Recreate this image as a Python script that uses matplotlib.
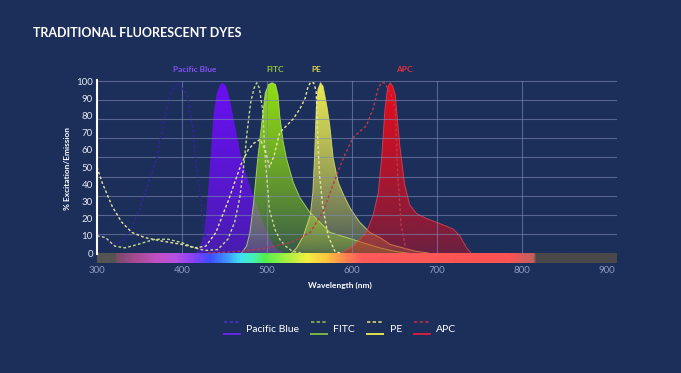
import numpy as np
import matplotlib
matplotlib.use('Agg')
import matplotlib.pyplot as plt
from matplotlib.colors import LinearSegmentedColormap, to_rgba
from matplotlib.patches import Polygon
from matplotlib.lines import Line2D
from matplotlib.legend_handler import HandlerBase

plt.rcParams['font.family'] = ['Lato', 'DejaVu Sans']

# ---- data (wavelength nm, % excitation/emission) ----
dyes = ['Pacific Blue', 'FITC', 'PE', 'APC']

pb_ex_nm = [300, 310, 320, 330, 340, 350, 360, 370, 378, 386, 395, 406, 412, 416, 420, 425, 430, 436]
pb_ex = [12, 8, 5, 7, 14, 25, 40, 55, 75, 92, 99, 92, 75, 55, 38, 16, 4, 0]
pb_em_nm = [417, 421, 425, 428, 431, 434, 437, 441, 445, 448, 452, 456, 460, 466, 470, 476, 482,
            488, 494, 500, 506, 512, 520]
pb_em = [0, 3, 10, 20, 38, 58, 80, 93, 98, 99, 97, 90, 80, 65, 55, 45, 36, 28, 20, 12, 6, 2, 0]

fitc_ex_nm = [300, 310, 321, 333, 348, 368, 384, 400, 415, 427, 442, 454, 462, 468, 473, 477, 481,
              485, 488, 491, 495, 498, 503, 510, 515, 522, 530, 540]
fitc_ex = [10, 9, 4, 3, 5, 8, 8, 6, 3, 1.5, 2, 8, 18, 32, 52, 72, 88, 96, 99, 96, 83, 55, 25, 13,
           8, 4, 1, 0]
fitc_em_nm = [470, 476, 480, 484, 489, 494, 498, 502, 506, 510, 513, 515, 519, 523, 531, 539, 550,
              562, 574, 594, 613, 633, 650, 665]
fitc_em = [0, 4, 12, 28, 54, 76, 93, 98, 99, 98, 92, 80, 65, 55, 41, 32, 24, 18, 12, 9, 6, 3, 1, 0]

pe_ex_nm = [300, 306, 318, 329, 341, 356, 376, 400, 415, 428, 440, 447, 455, 462, 470, 478, 485,
            492, 498, 503, 508, 515, 523, 531, 539, 545, 548, 551, 555, 558, 560, 562, 566, 572,
            580, 586]
pe_ex = [50, 41, 27, 18, 12, 9, 7, 5, 3, 4, 12, 21, 31, 41, 52, 60, 64, 66, 60, 50, 56, 70, 74,
         78, 84, 90, 96, 99, 99, 94, 64, 45, 26, 10, 1, 0]
pe_em_nm = [529, 535, 543, 551, 554, 556, 558, 560, 563, 566, 568, 571, 574, 578, 584, 590, 598,
            609, 621, 633, 645, 660, 675, 690]
pe_em = [0, 3, 10, 22, 35, 55, 84, 95, 99, 97, 92, 84, 74, 55, 41, 34, 26, 18, 12, 9, 5, 3, 1, 0]

apc_ex_nm = [430, 470, 500, 527, 540, 551, 566, 578, 588, 601, 610, 617, 625, 631, 635, 638, 642,
             646, 651, 654, 658, 664, 670]
apc_ex = [0, 1, 3, 6, 9, 12, 24, 40, 53, 67, 71, 74, 84, 96, 99, 99, 96, 92, 84, 45, 16, 1, 0]
apc_em_nm = [588, 598, 606, 617, 625, 631, 635, 639, 642, 645, 648, 651, 656, 662, 668, 676, 688,
             704, 719, 727, 735, 740]
apc_em = [0, 3, 6, 12, 22, 35, 55, 84, 96, 99, 97, 92, 64, 40, 28, 23, 20, 17, 14, 10, 3, 0]

x_ticks = [300, 400, 500, 600, 700, 800, 900]
y_ticks = [0, 10, 20, 30, 40, 50, 60, 70, 80, 90, 100]

# ---- styling ----
BG = '#1c2e5a'
GRID = '#7d8cb4'
label_colors = ['#8150ee', '#95c83c', '#d8d24c', '#e8303e']
ex_colors = ['#3224a0', '#c4dc8c', '#e6e69a', '#b83a4c']
em_top = ['#6a10f2', '#92e010', '#ecec52', '#e80c1c']
em_bottom_alpha = [0.55, 0.22, 0.18, 0.38]
em_edge = [None, '#b4e468', '#e4e070', '#e04458']
leg_dash = ['#4a30c8', '#92b454', '#d8d870', '#b83048']
leg_solid = ['#6628e8', '#7cb444', '#e0e050', '#d02040']

fig = plt.figure(figsize=(6.81, 3.73), dpi=100, facecolor=BG)
ax = fig.add_axes([97 / 681, 110 / 373, 520 / 681, 183.7 / 373])
ax.set_facecolor(BG)
ax.set_xlim(300, 912)
ax.set_ylim(-5.8, 101)


def gradient_fill(x, y, top, bottom_alpha, z):
    patch = Polygon(np.column_stack([x, y]), closed=True, facecolor='none', edgecolor='none')
    ax.add_patch(patch)
    t = np.linspace(0, 1, 256)
    img = np.tile(np.array(to_rgba(top)), (256, 1))
    img[:, 3] = bottom_alpha + (1 - bottom_alpha) * t ** 0.8
    ax.imshow(img[:, None, :], extent=[min(x), max(x), 0, 100], origin='lower',
              aspect='auto', zorder=z, interpolation='bilinear').set_clip_path(patch)


ems = [(pb_em_nm, pb_em), (fitc_em_nm, fitc_em), (pe_em_nm, pe_em), (apc_em_nm, apc_em)]
exs = [(pb_ex_nm, pb_ex), (fitc_ex_nm, fitc_ex), (pe_ex_nm, pe_ex), (apc_ex_nm, apc_ex)]

for i, (x, y) in enumerate(ems):
    gradient_fill(x, y, em_top[i], em_bottom_alpha[i], 2 + i)
    if em_edge[i]:
        ax.plot(x, y, color=em_edge[i], lw=0.7, alpha=0.8, zorder=2.5 + i)

# grid: 9 even horizontal bands, verticals every 100 nm
for k in range(1, 10):
    ax.axhline(100 * k / 9, color=GRID, lw=0.8, alpha=0.6, zorder=7)
for xv in x_ticks[1:-1]:
    ax.plot([xv, xv], [0, 100], color=GRID, lw=0.8, alpha=0.6, zorder=7)

for i, (x, y) in enumerate(exs):
    ax.plot(x, y, color=ex_colors[i], lw=1.0, ls=(0, (2, 1.6)), zorder=8)

# spectrum bar under the axis
stops = [(300, '#555555'), (320, '#585252'), (322, '#7a4a6c'), (345, '#a84a92'),
         (370, '#c250c4'), (392, '#b450e4'), (412, '#8a40f2'), (432, '#3e4cff'),
         (452, '#3e94ff'), (468, '#40e2f2'), (483, '#44f0b8'), (497, '#52f04e'),
         (522, '#a4f040'), (547, '#f2f040'), (572, '#ffc040'), (592, '#ff8450'),
         (612, '#ff5a5a'), (785, '#ff5252'), (815, '#c06060'), (818, '#4a4848'),
         (912, '#4a4848')]
spec = LinearSegmentedColormap.from_list(
    'spec', [((w - 300) / 612, c) for w, c in stops])
ax.imshow(np.linspace(0, 1, 612)[None, :], cmap=spec, extent=[300, 912, -5.8, -0.5],
          aspect='auto', zorder=6)
ax.set_xlim(300, 912)
ax.set_ylim(-5.8, 101)

for s in ['top', 'right', 'bottom']:
    ax.spines[s].set_visible(False)
ax.spines['left'].set_color('white')
ax.spines['left'].set_linewidth(1.5)
ax.spines['left'].set_bounds(-0.5, 100.5)
ax.spines['left'].set_zorder(9)

ax.set_xticks(x_ticks)
ax.set_yticks(y_ticks)
ax.tick_params(length=0)
ax.tick_params(axis='x', colors='#8f9cc2', labelsize=7, pad=2.5)
ax.tick_params(axis='y', colors='#e4e8f0', labelsize=7, pad=3)

fig.text(33 / 681, 1 - 33 / 373, 'TRADITIONAL FLUORESCENT DYES', color='white',
         fontsize=9, fontweight='bold', ha='left', va='center')
for name, col, px in zip(dyes, label_colors, [195, 275, 316, 404]):
    fig.text(px / 681, 1 - 69 / 373, name, color=col, fontsize=6, fontweight='bold',
             ha='center', va='center')
fig.text(67 / 681, 1 - 168 / 373, '% Excitation/Emission', color='white', fontsize=6,
         fontweight='bold', rotation=90, ha='center', va='center')
fig.text(340 / 681, 1 - 285 / 373, 'Wavelength (nm)', color='white', fontsize=6,
         fontweight='bold', ha='center', va='center')


class PairHandler(HandlerBase):
    def create_artists(self, legend, orig_handle, xdescent, ydescent, width, height,
                       fontsize, trans):
        dash, solid = orig_handle
        x0, x1 = -xdescent, width - xdescent
        top = Line2D([x0, x1], [height - ydescent] * 2, color=dash.get_color(),
                     ls=(0, (2, 1.4)), lw=1.2, transform=trans)
        bot = Line2D([x0, x1], [-ydescent] * 2, color=solid.get_color(), lw=1.4,
                     transform=trans)
        return [top, bot]


handles = [(Line2D([], [], color=leg_dash[i]), Line2D([], [], color=leg_solid[i]))
           for i in range(len(dyes))]
fig.legend(handles, dyes, handler_map={tuple: PairHandler()}, loc='center',
           bbox_to_anchor=(340 / 681, 1 - 328 / 373), ncol=4, frameon=False,
           fontsize=7.5, labelcolor='white', handlelength=1.55, handleheight=1.25,
           handletextpad=0.6, columnspacing=1.15)

fig.savefig('out.png', dpi=100, facecolor=BG)
